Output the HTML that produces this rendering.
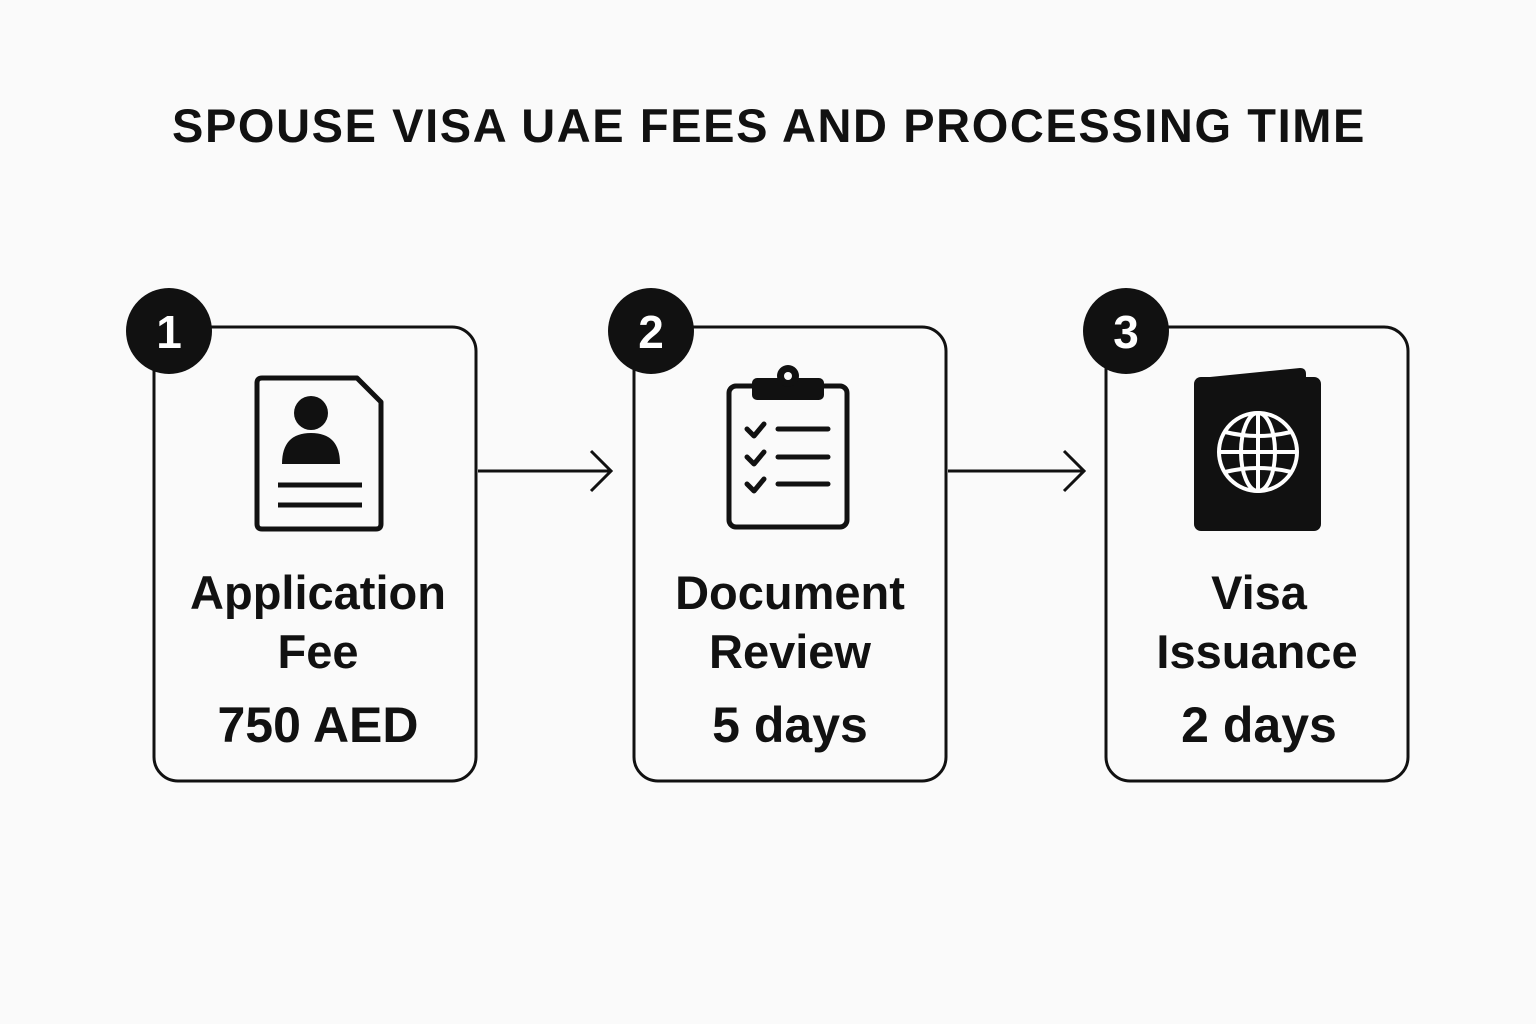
<!DOCTYPE html>
<html><head><meta charset="utf-8"><style>
html,body{margin:0;padding:0;background:#fafafa;}
body{width:1536px;height:1024px;position:relative;overflow:hidden;font-family:"Liberation Sans",sans-serif;color:#111;}
</style></head><body>
<svg width="1536" height="1024" viewBox="0 0 1536 1024" xmlns="http://www.w3.org/2000/svg" style="position:absolute;left:0;top:0">
<text x="769" y="142" text-anchor="middle" font-family="Liberation Sans, sans-serif" font-weight="bold" font-size="47" fill="#111" letter-spacing="1.6">SPOUSE VISA UAE FEES AND PROCESSING TIME</text>
<g fill="none" stroke="#111" stroke-width="3">
<rect x="154" y="327" width="322" height="454" rx="24"/>
<rect x="634" y="327" width="312" height="454" rx="24"/>
<rect x="1106" y="327" width="302" height="454" rx="24"/>
<line x1="478" y1="471" x2="611" y2="471"/>
<polyline points="591,451 611,471 591,491"/>
<line x1="948" y1="471" x2="1084" y2="471"/>
<polyline points="1064,451 1084,471 1064,491"/>
</g>
<g fill="#111">
<circle cx="169" cy="331" r="43"/><circle cx="651" cy="331" r="43"/><circle cx="1126" cy="331" r="43"/>
</g>
<g fill="#fff" font-family="Liberation Sans, sans-serif" font-weight="bold" font-size="46" text-anchor="middle">
<text x="169" y="348">1</text><text x="651" y="348">2</text><text x="1126" y="348">3</text>
</g>
<g fill="none" stroke="#111" stroke-width="5" stroke-linejoin="round">
<path d="M262 378 H357 L381 402 V524 Q381 529 376 529 H262 Q257 529 257 524 V383 Q257 378 262 378 Z"/>
<line x1="278" y1="485" x2="362" y2="485"/><line x1="278" y1="505" x2="362" y2="505"/>
</g>
<circle cx="311" cy="413" r="17" fill="#111"/>
<path d="M282 464 Q282 433 311 433 Q340 433 340 464 Z" fill="#111"/>
<g fill="none" stroke="#111" stroke-width="5" stroke-linejoin="round" stroke-linecap="round">
<rect x="729" y="386" width="118" height="141" rx="7"/>
<polyline points="747,429 754,436 764,424"/><polyline points="747,457 754,464 764,452"/><polyline points="747,484 754,491 764,479"/>
<line x1="778" y1="429" x2="828" y2="429"/><line x1="778" y1="457" x2="828" y2="457"/><line x1="778" y1="484" x2="828" y2="484"/>
</g>
<rect x="752" y="378" width="72" height="22" rx="5" fill="#111"/>
<circle cx="788" cy="376" r="11" fill="#111"/><circle cx="788" cy="376" r="4" fill="#fafafa"/>
<path d="M1200 378 L1300 368 Q1306 368 1306 374 V382 Z" fill="#111"/>
<rect x="1194" y="377" width="127" height="154" rx="7" fill="#111"/>
<g fill="none" stroke="#fff" stroke-width="4">
<circle cx="1258" cy="452" r="39"/>
<ellipse cx="1258" cy="452" rx="17" ry="39"/>
<line x1="1258" y1="413" x2="1258" y2="491"/>
<line x1="1219" y1="452" x2="1297" y2="452"/>
<path d="M1225 432 Q1258 440 1291 432"/><path d="M1225 472 Q1258 464 1291 472"/>
</g>
<g font-family="Liberation Sans, sans-serif" font-weight="bold" fill="#111" text-anchor="middle" font-size="47">
<text x="318" y="609">Application</text><text x="318" y="668">Fee</text>
<text x="318" y="742" font-size="50">750 AED</text>
<text x="790" y="609">Document</text><text x="790" y="668">Review</text>
<text x="790" y="742" font-size="50">5 days</text>
<text x="1259" y="609">Visa</text><text x="1257" y="668">Issuance</text>
<text x="1259" y="742" font-size="50">2 days</text>
</g>
</svg>
</body></html>
